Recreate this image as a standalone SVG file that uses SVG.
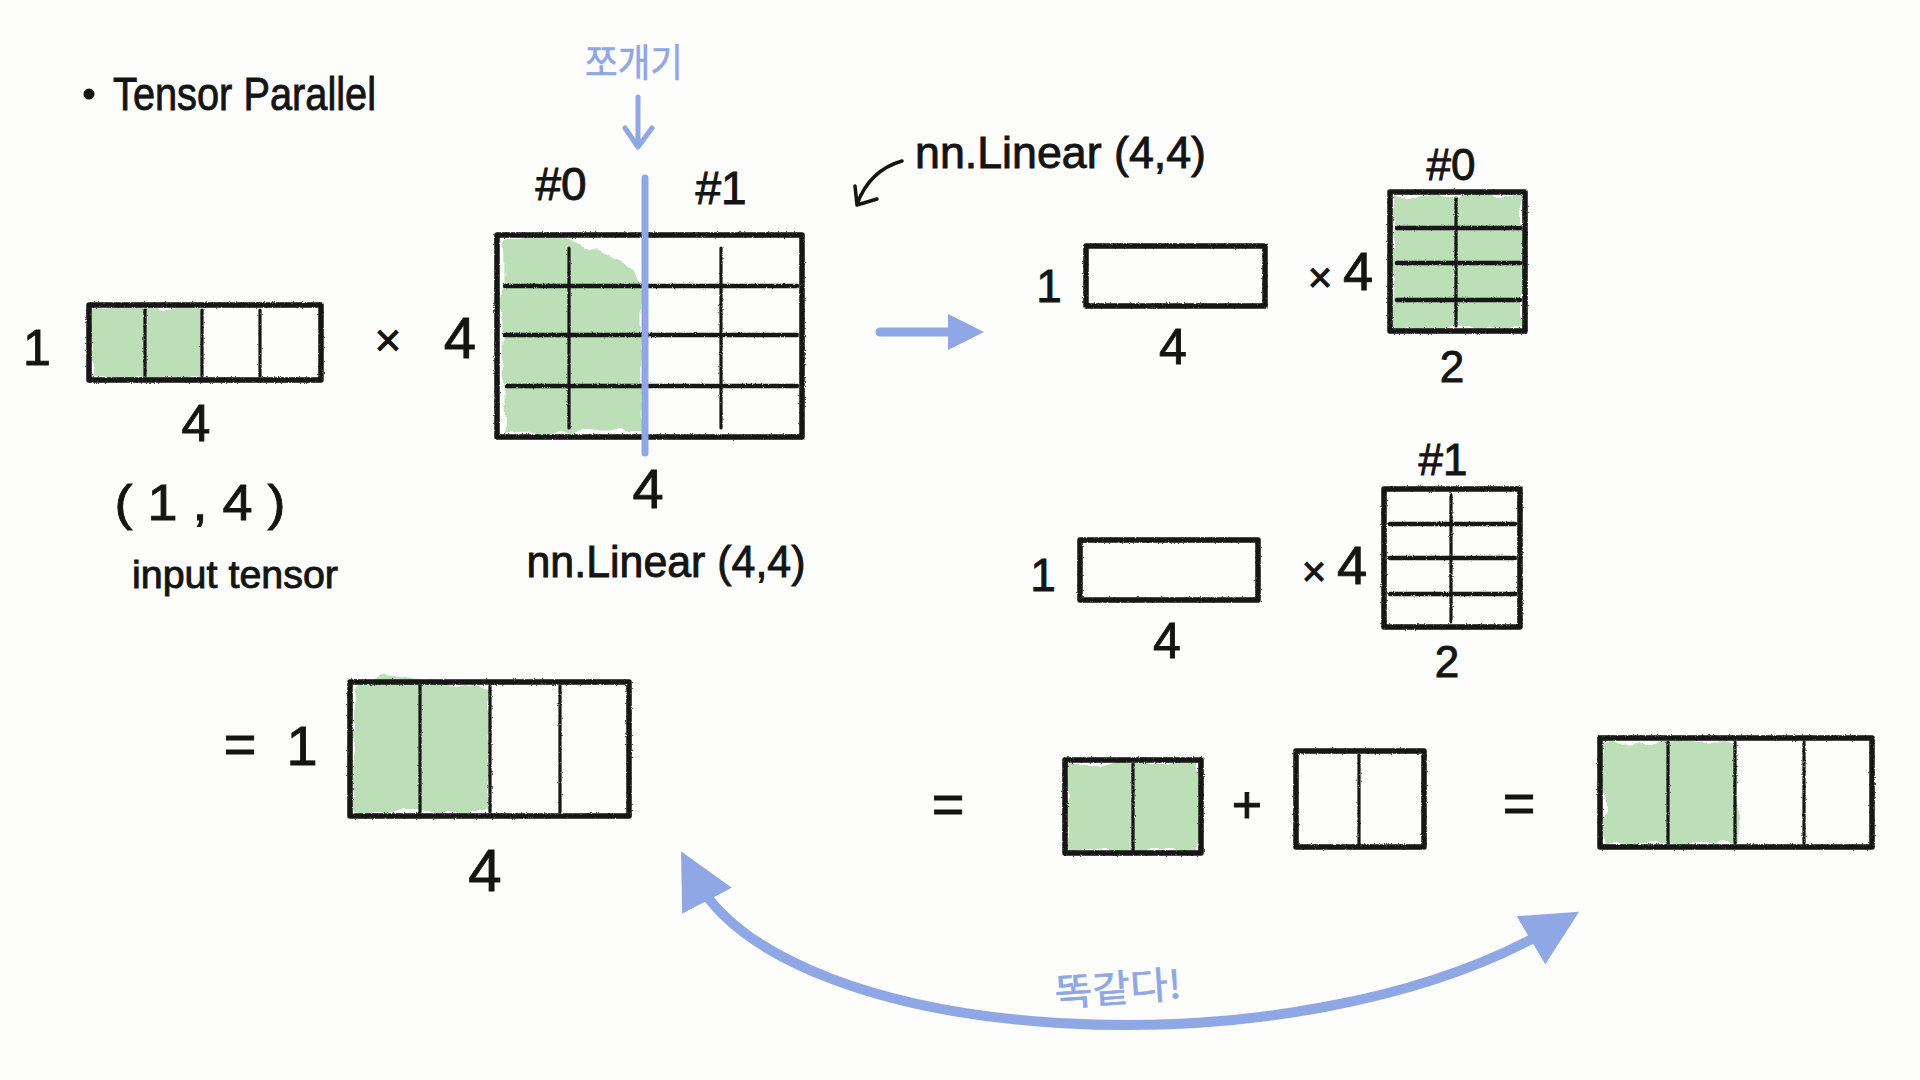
<svg xmlns="http://www.w3.org/2000/svg" width="1920" height="1080" viewBox="0 0 1920 1080">
  <style>
    .t { font-family: "Liberation Sans", "Noto Sans CJK KR", sans-serif; fill: #141414; stroke: #141414; stroke-width: 0.9; }
    .c { text-anchor: middle; }
    .kr { font-family: "Noto Sans CJK KR", "Liberation Sans", sans-serif; fill: #8fa7e4; stroke: #8fa7e4; stroke-width: 0.6; text-anchor: middle; }
    .box { fill: none; stroke: #161616; stroke-width: 5.5; stroke-linejoin: round; }
    .grid { stroke: #161616; stroke-width: 3.2; stroke-linecap: round; fill: none; }
    .hgrid { stroke: #161616; stroke-width: 4.5; stroke-linecap: round; fill: none; }
    .green { fill: #bcdfb8; }
    .blue { stroke: #8fa7e4; fill: none; stroke-linecap: round; stroke-linejoin: round; }
    .ink { stroke: #141414; fill: none; stroke-width: 3.5; stroke-linecap: round; stroke-linejoin: round; }
  </style>
  <defs>
    <filter id="rough" x="-5%" y="-5%" width="110%" height="110%">
      <feTurbulence type="fractalNoise" baseFrequency="0.9" numOctaves="2" seed="3" result="n"/>
      <feDisplacementMap in="SourceGraphic" in2="n" scale="2.5" xChannelSelector="R" yChannelSelector="G"/>
    </filter>
    <filter id="scribble" x="-10%" y="-10%" width="120%" height="120%">
      <feTurbulence type="fractalNoise" baseFrequency="0.045" numOctaves="2" seed="7" result="n"/>
      <feDisplacementMap in="SourceGraphic" in2="n" scale="12" xChannelSelector="R" yChannelSelector="G"/>
    </filter>
    <marker id="bhead" viewBox="0 0 10 10" refX="5" refY="5" markerWidth="5.6" markerHeight="5.6" orient="auto-start-reverse" markerUnits="strokeWidth">
      <path d="M0,0 L10,5 L0,10 z" fill="#8fa7e4"/>
    </marker>
    <marker id="bhead-s" viewBox="0 0 10 10" refX="5" refY="5" markerWidth="4" markerHeight="4" orient="auto" markerUnits="strokeWidth">
      <path d="M0,0 L10,5 L0,10 z" fill="#8fa7e4"/>
    </marker>
  </defs>

  <rect width="1920" height="1080" fill="#fdfdfc"/>

  <g id="title">
    <circle cx="89" cy="94" r="4" fill="#141414" stroke="#141414" stroke-width="3"/>
    <text class="t" x="113" y="110" font-size="47" textLength="263" lengthAdjust="spacingAndGlyphs">Tensor Parallel</text>
  </g>

  <g id="input-tensor">
    <rect class="green" x="92" y="308" width="110" height="70" filter="url(#scribble)"/>
    <g filter="url(#rough)">
      <rect class="box" x="89" y="305" width="232" height="75"/>
      <path class="grid" d="M145 310 V376 M202 310 V376 M260 310 V376"/>
    </g>
    <text class="t c" x="37" y="365" font-size="50">1</text>
    <text class="t c" x="196" y="441" font-size="52">4</text>
    <text class="t c" x="200" y="520" font-size="50" textLength="171" lengthAdjust="spacingAndGlyphs">( 1 , 4 )</text>
    <text class="t c" x="235" y="588" font-size="38" textLength="206" lengthAdjust="spacingAndGlyphs">input tensor</text>
  </g>

  <g id="times-op">
    <text class="t c" x="388" y="356" font-size="46">×</text>
    <text class="t c" x="460" y="358" font-size="58">4</text>
  </g>

  <g id="linear-weight">
    <path class="green" d="M502 245 Q530 224 560 238 L600 250 Q630 262 640 280 L642 430 L505 432 Z" filter="url(#scribble)"/>
    <g filter="url(#rough)">
      <rect class="box" x="497" y="235" width="305" height="202"/>
      <path class="hgrid" d="M505 286 H797 M505 335 H797 M507 386 H797"/>
      <path class="grid" d="M569 248 V428 M721 248 V428"/>
    </g>
    <text class="t c" x="561" y="200" font-size="46">#0</text>
    <text class="t c" x="721" y="204" font-size="46">#1</text>
    <text class="t c" x="648" y="508" font-size="56">4</text>
    <text class="t c" x="666" y="577" font-size="44" textLength="279" lengthAdjust="spacingAndGlyphs">nn.Linear (4,4)</text>
  </g>

  <g id="split-label">
    <text class="kr" x="634" y="76" font-size="38" textLength="98" lengthAdjust="spacingAndGlyphs">쪼개기</text>
  </g>

  <g id="linear-note">
    <text class="t" x="915" y="168" font-size="44" textLength="291" lengthAdjust="spacingAndGlyphs">nn.Linear (4,4)</text>
  </g>

  <g id="shard-0">
    <text class="t c" x="1049" y="302" font-size="46">1</text>
    <rect class="box" x="1086" y="246" width="179" height="60" filter="url(#rough)"/>
    <text class="t c" x="1173" y="364" font-size="50">4</text>
    <text class="t c" x="1320" y="292" font-size="42">×</text>
    <text class="t c" x="1358" y="290" font-size="54">4</text>
    <rect class="green" x="1393" y="196" width="129" height="132" filter="url(#scribble)"/>
    <g filter="url(#rough)">
      <rect class="box" x="1390" y="192" width="135" height="139"/>
      <path class="hgrid" d="M1397 228 H1520 M1397 263 H1520 M1397 300 H1520"/>
      <path class="grid" d="M1456 198 V326"/>
    </g>
    <text class="t c" x="1451" y="180" font-size="44">#0</text>
    <text class="t c" x="1452" y="382" font-size="44">2</text>
  </g>

  <g id="shard-1">
    <text class="t c" x="1043" y="591" font-size="46">1</text>
    <rect class="box" x="1080" y="540" width="178" height="60" filter="url(#rough)"/>
    <text class="t c" x="1167" y="658" font-size="50">4</text>
    <text class="t c" x="1314" y="586" font-size="42">×</text>
    <text class="t c" x="1352" y="584" font-size="54">4</text>
    <g filter="url(#rough)">
      <rect class="box" x="1384" y="489" width="136" height="138"/>
      <path class="hgrid" d="M1390 524 H1515 M1390 558 H1515 M1390 594 H1515"/>
      <path class="grid" d="M1451 495 V622"/>
    </g>
    <text class="t c" x="1443" y="475" font-size="44">#1</text>
    <text class="t c" x="1447" y="677" font-size="44">2</text>
  </g>

  <g id="result-full">
    <text class="t c" x="240" y="763" font-size="56">=</text>
    <text class="t c" x="302" y="765" font-size="56">1</text>
    <path class="green" d="M354 690 Q380 666 400 675 L488 690 L490 812 L354 812 Z" filter="url(#scribble)"/>
    <g filter="url(#rough)">
      <rect class="box" x="350" y="682" width="279" height="134"/>
      <path class="grid" d="M420 686 V812 M490 686 V812 M560 686 V812"/>
    </g>
    <text class="t c" x="485" y="891" font-size="60">4</text>
  </g>

  <g id="result-sum">
    <text class="t c" x="948" y="823" font-size="56">=</text>
    <rect class="green" x="1068" y="763" width="130" height="87" filter="url(#scribble)"/>
    <g filter="url(#rough)">
      <rect class="box" x="1065" y="760" width="136" height="93"/>
      <path class="grid" d="M1133 764 V850"/>
    </g>
    <text class="t c" x="1247" y="823" font-size="52">+</text>
    <g filter="url(#rough)">
      <rect class="box" x="1296" y="751" width="128" height="96"/>
      <path class="grid" d="M1359 755 V844"/>
    </g>
    <text class="t c" x="1519" y="822" font-size="56">=</text>
    <path class="green" d="M1604 745 L1735 742 L1738 843 L1604 843 Z" filter="url(#scribble)"/>
    <g filter="url(#rough)">
      <rect class="box" x="1600" y="738" width="272" height="109"/>
      <path class="grid" d="M1668 742 V843 M1735 742 V843 M1804 742 V843"/>
    </g>
  </g>

  <g id="connectors">
    <path class="blue" stroke-width="5" d="M638 97 V146 M625 128 L638 147 L652 128"/>
    <path class="blue" stroke-width="7" d="M645 178 V453"/>
    <path class="blue" stroke-width="9" d="M880 332 H966" marker-end="url(#bhead-s)"/>
    <path class="ink" d="M902 161 Q870 170 857 204 M855 186 L857 205 L877 199"/>
    <path class="blue" stroke-width="10" d="M694 876 C785 1050 1300 1078 1555 926" marker-start="url(#bhead)" marker-end="url(#bhead)"/>
  </g>

  <g id="same-label">
    <text class="kr" x="1118" y="1002" font-size="38" textLength="127" lengthAdjust="spacingAndGlyphs" transform="rotate(-4 1118 990)">똑같다!</text>
  </g>
</svg>
